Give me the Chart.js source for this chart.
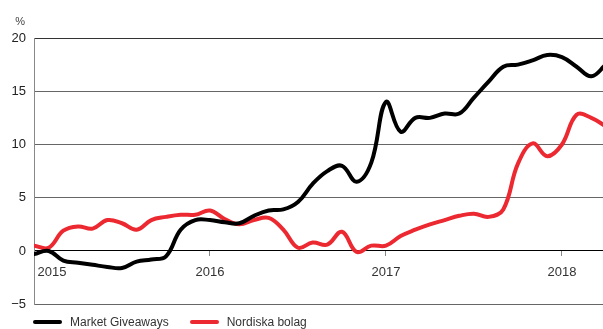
<!DOCTYPE html>
<html>
<head>
<meta charset="utf-8">
<script src="https://cdn.jsdelivr.net/npm/chart.js@4"></script>
<style>
	html, body { margin: 0; padding: 0; background: #fff; }
	#wrap { position: relative; width: 603px; height: 320px; }
	#legend { position: absolute; left: 33px; top: 315px; display: flex; font: 12px "Liberation Sans", Arial, sans-serif; color: #333; line-height: 14px; }
	.item { display: flex; align-items: center; margin-right: 21px; }
	.swatch { width: 29px; height: 4px; border-radius: 2px; margin-right: 8px; }
</style>
</head>
<body>
<div id="wrap"><canvas id="chart"></canvas></div>
<div id="legend"></div>
<script>
// months since Jan 2015
const MONTHS      = [0,1,2,3,4,5,6,7,8,9,10,11,12,13,14,15,16,17,18,19,20,21,22,23,24,25,26,27,28,29,30,31,32,33,34,35,36,37,38,39];
const YEAR_TICKS  = [0, 12, 24, 36, 38.8];
const YEAR_LABELS = [' 2015', '2016', '2017', '2018', ''];
const Y_TICKS     = [-5, 0, 5, 10, 15, 20];

const MARKET_GIVEAWAYS = [-0.3, 0.0, -0.9, -1.1, -1.3, -1.5, -1.6, -1.0, -0.8, -0.5, 2.0, 2.9,
                          2.9, 2.7, 2.6, 3.3, 3.8, 3.9, 4.6, 6.3, 7.5, 8.0, 6.5, 8.3,
                          14.0, 11.2, 12.5, 12.5, 12.9, 12.9, 14.4, 15.9, 17.3, 17.5, 17.9, 18.4,
                          18.2, 17.3, 16.4, 17.5];
const NORDISKA_BOLAG   = [0.5, 0.3, 1.9, 2.3, 2.1, 2.9, 2.6, 2.0, 2.9, 3.2, 3.4, 3.4,
                          3.8, 3.0, 2.5, 2.9, 3.1, 2.0, 0.3, 0.8, 0.6, 1.8, -0.1, 0.5,
                          0.5, 1.4, 2.0, 2.5, 2.9, 3.3, 3.5, 3.2, 3.9, 8.2, 10.1, 8.9,
                          10.0, 12.8, 12.5, 11.7];

const FONT = '"Liberation Sans", Arial, Helvetica, sans-serif';

const toPoints = vals => vals.map((v, i) => ({ x: MONTHS[i], y: v }));

// "%" above the y axis
const unitLabel = {
	id: 'unitLabel',
	afterDraw(chart) {
		const y = chart.scales.y;
		const ctx = chart.ctx;
		ctx.save();
		ctx.font = '11px ' + FONT;
		ctx.fillStyle = '#444';
		ctx.textAlign = 'right';
		ctx.textBaseline = 'middle';
		ctx.fillText('%', y.right - 9, y.top - 16);
		ctx.restore();
	}
};

const chart = new Chart(document.getElementById('chart'), {
	type: 'line',
	data: {
		datasets: [
			{ label: 'Market Giveaways', data: toPoints(MARKET_GIVEAWAYS), borderColor: '#000000', backgroundColor: '#000000' },
			{ label: 'Nordiska bolag',   data: toPoints(NORDISKA_BOLAG),   borderColor: '#ec2830', backgroundColor: '#ec2830' },
		]
	},
	options: {
		responsive: true,
		maintainAspectRatio: false,
		animation: false,
		parsing: false,
		layout: { padding: { top: 38, bottom: 7, left: 0, right: 0 } },
		elements: {
			line: { borderWidth: 4, tension: 0.4, borderJoinStyle: 'round', borderCapStyle: 'round' },
			point: { radius: 0 }
		},
		plugins: {
			legend: { display: false },
			tooltip: { enabled: false }
		},
		scales: {
			x: {
				type: 'linear',
				position: { y: 0 },
				min: 0,
				max: 38.8,
				afterBuildTicks: s => { s.ticks = YEAR_TICKS.map(v => ({ value: v })); },
				ticks: {
					align: 'inner',
					autoSkip: false,
					maxRotation: 0,
					padding: 0,
					color: '#333',
					font: { family: FONT, size: 13, lineHeight: '32px' },
					callback: (v, i) => YEAR_LABELS[i]
				},
				grid: {
					drawOnChartArea: false,
					tickLength: 5,
					color: c => (c.index === 0 || c.index === YEAR_TICKS.length - 1) ? 'rgba(0,0,0,0)' : '#888'
				},
				border: { color: '#000', width: 1 }
			},
			y: {
				min: -5,
				max: 20,
				afterBuildTicks: s => { s.ticks = Y_TICKS.map(v => ({ value: v })); },
				afterFit: s => { s.width = 34; },
				ticks: {
					padding: 8,
					color: '#222',
					font: { family: FONT, size: 13 },
					callback: v => v < 0 ? '\u2212' + Math.abs(v) : String(v)
				},
				grid: {
					drawTicks: false,
					color: c => c.tick.value === 0 ? '#000' : (c.tick.value === 20 ? '#333' : '#666')
				},
				border: { color: '#888', width: 1 }
			}
		}
	},
	plugins: [unitLabel]
});

// html legend
const legend = document.getElementById('legend');
chart.data.datasets.forEach(ds => {
	const item = document.createElement('div');
	item.className = 'item';
	const sw = document.createElement('span');
	sw.className = 'swatch';
	sw.style.background = ds.borderColor;
	const txt = document.createElement('span');
	txt.textContent = ds.label;
	item.appendChild(sw);
	item.appendChild(txt);
	legend.appendChild(item);
});
</script>
</body>
</html>
